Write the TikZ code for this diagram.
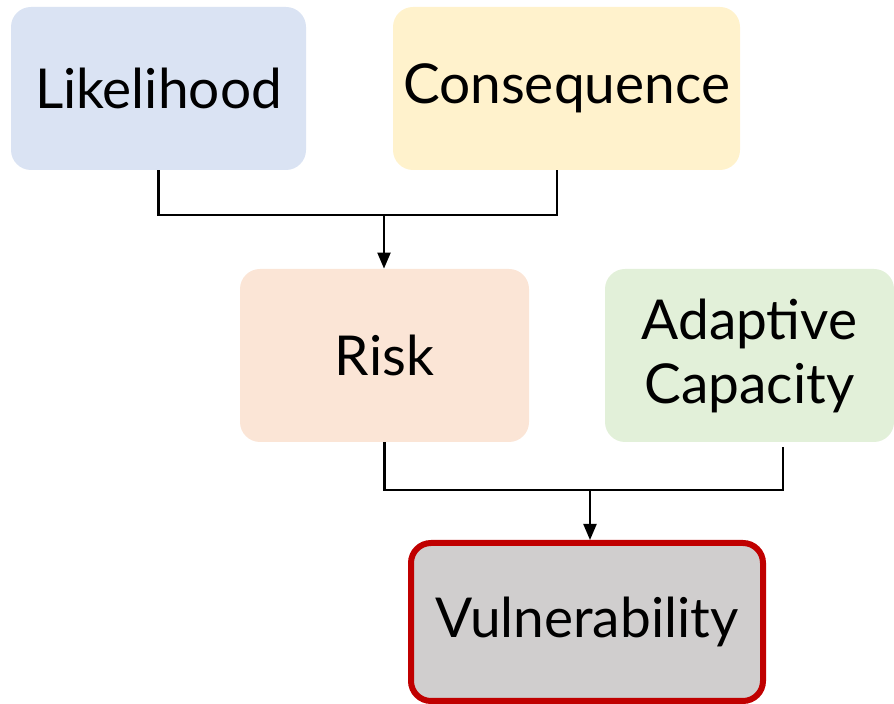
\documentclass[tikz,border=0pt]{standalone}
\usepackage{fontspec}
\setmainfont{Lato}
\usepackage{tikz}
\usetikzlibrary{arrows.meta, positioning, calc}
\definecolor{likebg}{RGB}{218,227,243}
\definecolor{consbg}{RGB}{255,242,204}
\definecolor{riskbg}{RGB}{251,229,214}
\definecolor{adaptbg}{RGB}{226,240,217}
\definecolor{vulnbg}{RGB}{208,206,206}
\definecolor{vulnred}{RGB}{192,0,0}

\tikzset{
    factor/.style={rounded corners=10pt, align=center, inner sep=0pt,
        font=\fontsize{27.5}{32}\selectfont, text=black},
    link/.style={draw=black, line width=1.1pt},
    feed/.style={link, -{Triangle[length=8pt,width=6.5pt]}}
}

\begin{document}
\begin{tikzpicture}[x=0.5pt, y=-0.5pt]
    \useasboundingbox (0,0) rectangle (894,704);

    % input boxes
    \node[factor, fill=likebg, minimum width=147.5pt, minimum height=81.5pt] (like) at (158.5,88.5) {Likelihood};
    \node[factor, fill=consbg, minimum width=173.5pt, minimum height=81.5pt] (cons) at (566.5,88.5) {Consequence};

    % second level
    \node[factor, fill=riskbg, minimum width=144.5pt, minimum height=86.5pt] (risk) at (384.5,355.5) {Risk};
    \node[factor, fill=adaptbg, minimum width=144.5pt, minimum height=86.5pt] (adapt) at (749.5,355.5) {Adaptive\\Capacity};

    % result
    \node[factor, fill=vulnbg, draw=vulnred, line width=3pt, minimum width=176pt, minimum height=79pt] (vuln) at (587,622) {Vulnerability};

    % junctions
    \coordinate (j1) at (384,215);
    \coordinate (j2) at (590,490);
    \coordinate (ctap) at ([xshift=-4.75pt]cons.south);
    \coordinate (atap) at ([xshift=16.75pt,yshift=-2.5pt]adapt.south);

    % likelihood x consequence -> risk
    \draw[link] (like.south) -- (like.south |- j1) -- (ctap |- j1) -- (ctap);
    \draw[feed] (j1) -- (j1 |- risk.north);

    % risk + adaptive capacity -> vulnerability
    \draw[link] (risk.south) -- (risk.south |- j2) -- (atap |- j2) -- (atap);
    \draw[feed] (j2) -- (j2 |- vuln.north);
\end{tikzpicture}
\end{document}
